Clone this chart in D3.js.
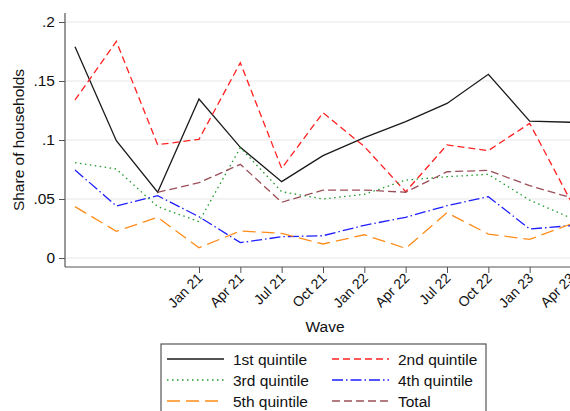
<!DOCTYPE html>
<html>
<head>
<meta charset="utf-8">
<script src="https://cdn.jsdelivr.net/npm/d3@7"></script>
<style>
  body { margin: 0; background: #fff; }
  svg { display: block; }
  svg text { font-family: "Liberation Sans", Arial, Helvetica, sans-serif; }
</style>
</head>
<body>
<div id="chart"></div>
<script>
// wave index 0..12, labels only from Jan 21 on
var waves = [0, 1, 2, 3, 4, 5, 6, 7, 8, 9, 10, 11, 12];
var tickWaves = [3, 4, 5, 6, 7, 8, 9, 10, 11, 12];
var tickLabels = ["Jan 21", "Apr 21", "Jul 21", "Oct 21", "Jan 22", "Apr 22", "Jul 22", "Oct 22", "Jan 23", "Apr 23"];
var yTicks = [0, 0.05, 0.1, 0.15, 0.2];
var yTickLabels = ["0", ".05", ".1", ".15", ".2"];

var q1 = [0.179, 0.0994, 0.0557, 0.1347, 0.0938, 0.0647, 0.0867, 0.102, 0.1155, 0.131, 0.1557, 0.116, 0.115];
var q2 = [0.1339, 0.1836, 0.096, 0.1006, 0.1655, 0.076, 0.1231, 0.0945, 0.0562, 0.0958, 0.091, 0.1141, 0.048];
var q3 = [0.0808, 0.0754, 0.0435, 0.0308, 0.0935, 0.0562, 0.05, 0.054, 0.066, 0.0689, 0.0709, 0.049, 0.0339];
var q4 = [0.0746, 0.0441, 0.0528, 0.035, 0.013, 0.018, 0.0189, 0.0277, 0.0345, 0.0443, 0.052, 0.0246, 0.0274];
var q5 = [0.0435, 0.0226, 0.0345, 0.0087, 0.0229, 0.0209, 0.0119, 0.0197, 0.0082, 0.0384, 0.0203, 0.0158, 0.0288];
var total = [null, null, 0.0557, 0.0638, 0.0794, 0.0472, 0.0576, 0.0576, 0.0557, 0.0731, 0.0743, 0.0613, 0.0511];

var seriesNames = ["1st quintile", "2nd quintile", "3rd quintile", "4th quintile", "5th quintile", "Total"];
var seriesValues = [q1, q2, q3, q4, q5, total];

// styling for each series
var colors = ["#1a1a1a", "#ff2020", "#1f9a2a", "#1e1eff", "#ff8c1a", "#9a4f58"];
var dashes = [null, "7,4", "1.5,3.5", "11,3,1.5,3", "13,6", "8,4"];

var width = 570, height = 411;
var svg = d3.select("#chart").append("svg")
  .attr("width", width)
  .attr("height", height);

var x = d3.scaleLinear().domain([0, 12]).range([75, 571]);
var y = d3.scaleLinear().domain([0, 0.2]).range([258, 22]);

var axisLeft = 65, axisBottom = 267;

// gridlines
svg.append("g").selectAll("line")
  .data(yTicks)
  .enter().append("line")
  .attr("x1", axisLeft + 1).attr("x2", width)
  .attr("y1", d => y(d)).attr("y2", d => y(d))
  .attr("stroke", "#e8e8e8")
  .attr("stroke-width", 1.2);

// y axis
var yAxis = d3.axisLeft(y)
  .tickValues(yTicks)
  .tickFormat((d, i) => yTickLabels[i])
  .tickSize(6)
  .tickPadding(4)
  .tickSizeOuter(0);

var yg = svg.append("g")
  .attr("transform", "translate(" + axisLeft + ",0)")
  .call(yAxis)
  .attr("font-family", null)
  .attr("font-size", null);
yg.select(".domain").attr("d", "M0,13V" + axisBottom).attr("stroke", "#555").attr("stroke-width", 1.2);
yg.selectAll(".tick line").attr("stroke", "#555");
yg.selectAll(".tick text").style("font-size", "15.5px").attr("fill", "#111");

// x axis
var xAxis = d3.axisBottom(x)
  .tickValues(tickWaves)
  .tickFormat((d, i) => tickLabels[i])
  .tickSize(6)
  .tickSizeOuter(0);

var xg = svg.append("g")
  .attr("transform", "translate(0," + axisBottom + ")")
  .call(xAxis)
  .attr("font-family", null)
  .attr("font-size", null);
xg.select(".domain").attr("d", "M" + axisLeft + ",0H" + (width + 5)).attr("stroke", "#555").attr("stroke-width", 1.2);
xg.selectAll(".tick line").attr("stroke", "#555");
xg.selectAll(".tick text")
  .style("font-size", "14px")
  .attr("fill", "#111")
  .attr("text-anchor", "end")
  .attr("dy", null)
  .attr("y", 0)
  .attr("transform", "translate(4,12) rotate(-45)");

// axis titles
svg.append("text")
  .attr("transform", "translate(24,140) rotate(-90)")
  .attr("text-anchor", "middle")
  .style("font-size", "15.5px")
  .attr("fill", "#111")
  .text("Share of households");

svg.append("text")
  .attr("x", 325).attr("y", 332)
  .attr("text-anchor", "middle")
  .style("font-size", "15.5px")
  .attr("fill", "#111")
  .text("Wave");

// lines
var line = d3.line()
  .defined(d => d[1] != null)
  .x(d => x(d[0]))
  .y(d => y(d[1]));

seriesValues.forEach(function(vals, i) {
  var pts = waves.map((w, j) => [w, vals[j]]);
  svg.append("path")
    .datum(pts)
    .attr("fill", "none")
    .attr("stroke", colors[i])
    .attr("stroke-width", 1.3)
    .attr("stroke-dasharray", dashes[i])
    .attr("d", line);
});

// legend
var lg = svg.append("g");
lg.append("rect")
  .attr("x", 161).attr("y", 344)
  .attr("width", 325).attr("height", 80)
  .attr("fill", "#fff")
  .attr("stroke", "#555")
  .attr("stroke-width", 1.2);

seriesNames.forEach(function(name, i) {
  var col = i % 2, row = Math.floor(i / 2);
  var lx = col === 0 ? 167 : 332;
  var ly = 359 + row * 21;
  lg.append("line")
    .attr("x1", lx).attr("x2", lx + 57)
    .attr("y1", ly).attr("y2", ly)
    .attr("stroke", colors[i])
    .attr("stroke-width", 1.3)
    .attr("stroke-dasharray", dashes[i]);
  lg.append("text")
    .attr("x", lx + 66).attr("y", ly + 5.5)
    .style("font-size", "15.5px")
    .attr("fill", "#111")
    .text(name);
});
</script>
</body>
</html>
